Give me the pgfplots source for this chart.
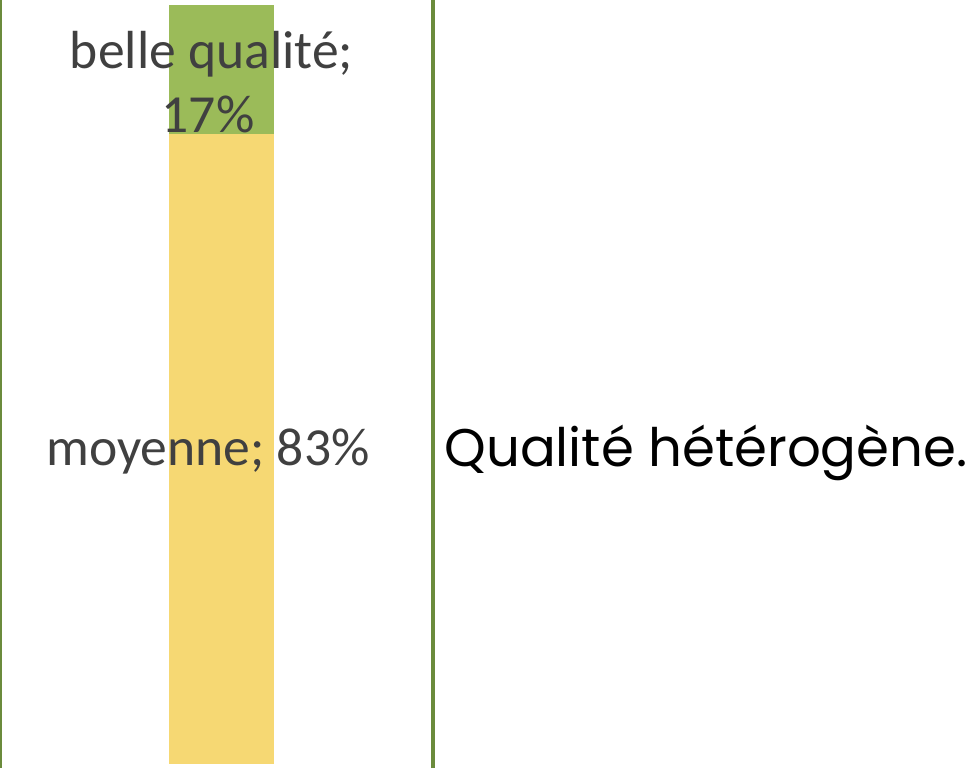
\documentclass[border=0pt]{standalone}
\usepackage{pgfplots}
\pgfplotsset{compat=1.18}
\usepackage{fontspec}
\setmainfont{Carlito}
\newfontfamily\gothic{Poppins}
\definecolor{barGreen}{HTML}{9BBB59}
\definecolor{barYellow}{HTML}{F6D873}
\definecolor{lineGreen}{HTML}{6B8B3C}
\definecolor{labelGray}{HTML}{404040}
\begin{document}
\begin{tikzpicture}[x=0.5pt,y=0.5pt]
\useasboundingbox (0,0) rectangle (979,768);
\begin{axis}[at={(0,0)}, anchor=south west, scale only axis,
  width=216.25pt, height=384pt,
  xmin=0, xmax=432.5, ymin=-0.527, ymax=100.66,
  ybar stacked, bar width=52.5pt,
  axis line style={draw=none}, ticks=none, clip=false]
\addplot[fill=barYellow, draw=none] coordinates {(221.5,83)};
\addplot[fill=barGreen, draw=none] coordinates {(221.5,17)};
\coordinate (l0b) at (rel axis cs:0,0);
\coordinate (l0t) at (rel axis cs:0,1);
\coordinate (l1b) at (rel axis cs:1,0);
\coordinate (l1t) at (rel axis cs:1,1);
\coordinate (moy) at (axis cs:208,39.3);
\coordinate (bel) at (axis cs:211.5,91.70);
\coordinate (sev) at (axis cs:208,83.14);
\end{axis}
\draw[lineGreen, line width=2pt] (l0b) -- (l0t);
\draw[lineGreen, line width=2pt] (l1b) -- (l1t);
\node[anchor=base, text=labelGray, font=\fontsize{26.8}{32.5}\selectfont, inner sep=0pt] at (moy) {moyenne; 83\%};
\node[anchor=base, text=labelGray, font=\fontsize{26.8}{32.5}\selectfont, inner sep=0pt] at (bel) {belle qualité;};
\node[anchor=base, text=labelGray, font=\fontsize{26.8}{32.5}\selectfont, inner sep=0pt] at (sev) {17\%};
\node[anchor=base west, inner sep=0pt, font=\gothic\fontsize{26.5}{30}\selectfont] at (444,302) {Qualité hétérogène.};
\end{tikzpicture}
\end{document}
